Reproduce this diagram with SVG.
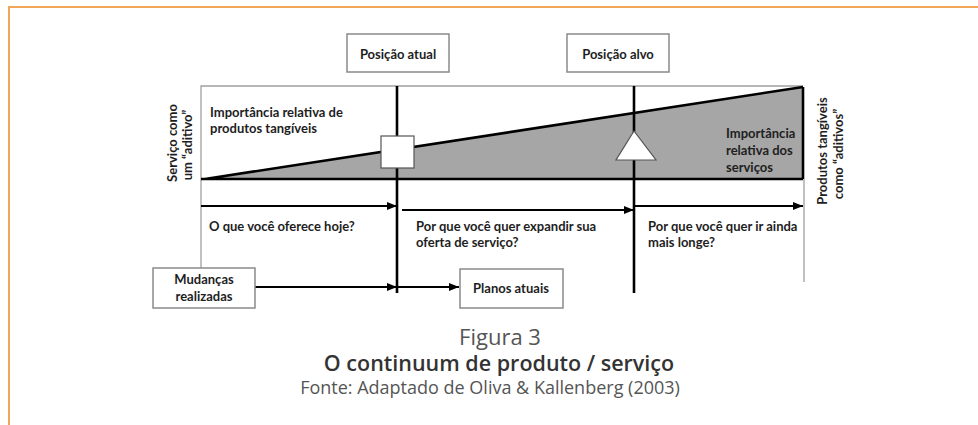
<svg xmlns="http://www.w3.org/2000/svg" width="978" height="425" viewBox="0 0 978 425">
<style>
.t{font-family:Lato,"Liberation Sans",sans-serif;font-weight:bold;font-size:13px;fill:#1e1e1e}
.box{fill:#fff;stroke:#8a8a8a;stroke-width:1.5}
.thin{stroke:#a0a0a0;stroke-width:1.3;fill:none}
.thick{stroke:#000;stroke-width:2.6;fill:none}
.arr{stroke:#000;stroke-width:2;fill:none;marker-end:url(#ah)}
.cap{font-family:"Open Sans","Noto Sans",sans-serif;text-anchor:middle}
</style>
<defs>
<marker id="ah" viewBox="0 0 10 10" refX="10" refY="5" markerWidth="5" markerHeight="5" orient="auto" markerUnits="strokeWidth">
<path d="M0,1 L10,5 L0,9 Z" fill="#000"/>
</marker>
</defs>
<rect width="978" height="425" fill="#fff"/>
<path d="M9,425 V7 H978" fill="none" stroke="#f2a65a" stroke-width="2"/>

<g id="chart">
<polygon points="205,179 803,87 803,179" fill="#a6a6a6"/>
<path class="thin" d="M201,268 V86 H803 M804,179 V282"/>
<path class="thick" d="M201,179 H803 M205,179 L803,87 M803,87 V179"/>
</g>

<g id="connectors">
<path class="thick" d="M397,86 V293 M634,86 V293"/>
<path class="arr" d="M201,206 H397"/>
<path class="arr" d="M402,210 H634"/>
<path class="arr" d="M634,206 H803"/>
<path class="arr" d="M255,287 H397"/>
<path class="arr" d="M397,287 H459"/>
</g>

<g id="marker-square"><rect x="381" y="136" width="33" height="32" fill="#fff" stroke="#555" stroke-width="1.2"/></g>
<g id="marker-triangle"><polygon points="634,131 616,160 656,160" fill="#fff" stroke="#555" stroke-width="1.2"/></g>

<g id="posicao-atual"><rect class="box" x="347" y="34" width="102" height="38"/><text class="t" x="398" y="59" text-anchor="middle">Posição atual</text></g>
<g id="posicao-alvo"><rect class="box" x="567" y="34" width="102" height="38"/><text class="t" x="618" y="59" text-anchor="middle">Posição alvo</text></g>
<g id="mudancas"><rect class="box" x="153" y="268" width="102" height="40"/><text class="t" x="204" y="284" text-anchor="middle">Mudanças</text><text class="t" x="204" y="301" text-anchor="middle">realizadas</text></g>
<g id="planos"><rect class="box" x="460" y="269" width="103" height="39"/><text class="t" x="511" y="293" text-anchor="middle">Planos atuais</text></g>

<g id="labels">
<text class="t" x="210" y="117">Importância relativa de</text>
<text class="t" x="210" y="133">produtos tangíveis</text>
<text class="t" x="726" y="138">Importância</text>
<text class="t" x="726" y="155">relativa dos</text>
<text class="t" x="726" y="172">serviços</text>
<text class="t" x="209" y="231">O que você oferece hoje?</text>
<text class="t" x="416" y="231">Por que você quer expandir sua</text>
<text class="t" x="416" y="247">oferta de serviço?</text>
<text class="t" x="648" y="231">Por que você quer ir ainda</text>
<text class="t" x="648" y="247">mais longe?</text>
<text class="t" text-anchor="middle" transform="translate(177,143) rotate(-90)">Serviço como</text>
<text class="t" text-anchor="middle" transform="translate(192,145) rotate(-90)">um “aditivo”</text>
<text class="t" text-anchor="middle" transform="translate(827,151) rotate(-90)">Produtos tangíveis</text>
<text class="t" text-anchor="middle" transform="translate(843,154) rotate(-90)">como  “aditivos”</text>
</g>

<g id="caption">
<text class="cap" x="500" y="345" font-size="22" fill="#555">Figura 3</text>
<text class="cap" x="499" y="371" font-size="21.5" font-weight="600" fill="#333">O continuum de produto / serviço</text>
<text class="cap" x="490" y="394" font-size="18" fill="#555">Fonte: Adaptado de Oliva &amp; Kallenberg (2003)</text>
</g>
</svg>
